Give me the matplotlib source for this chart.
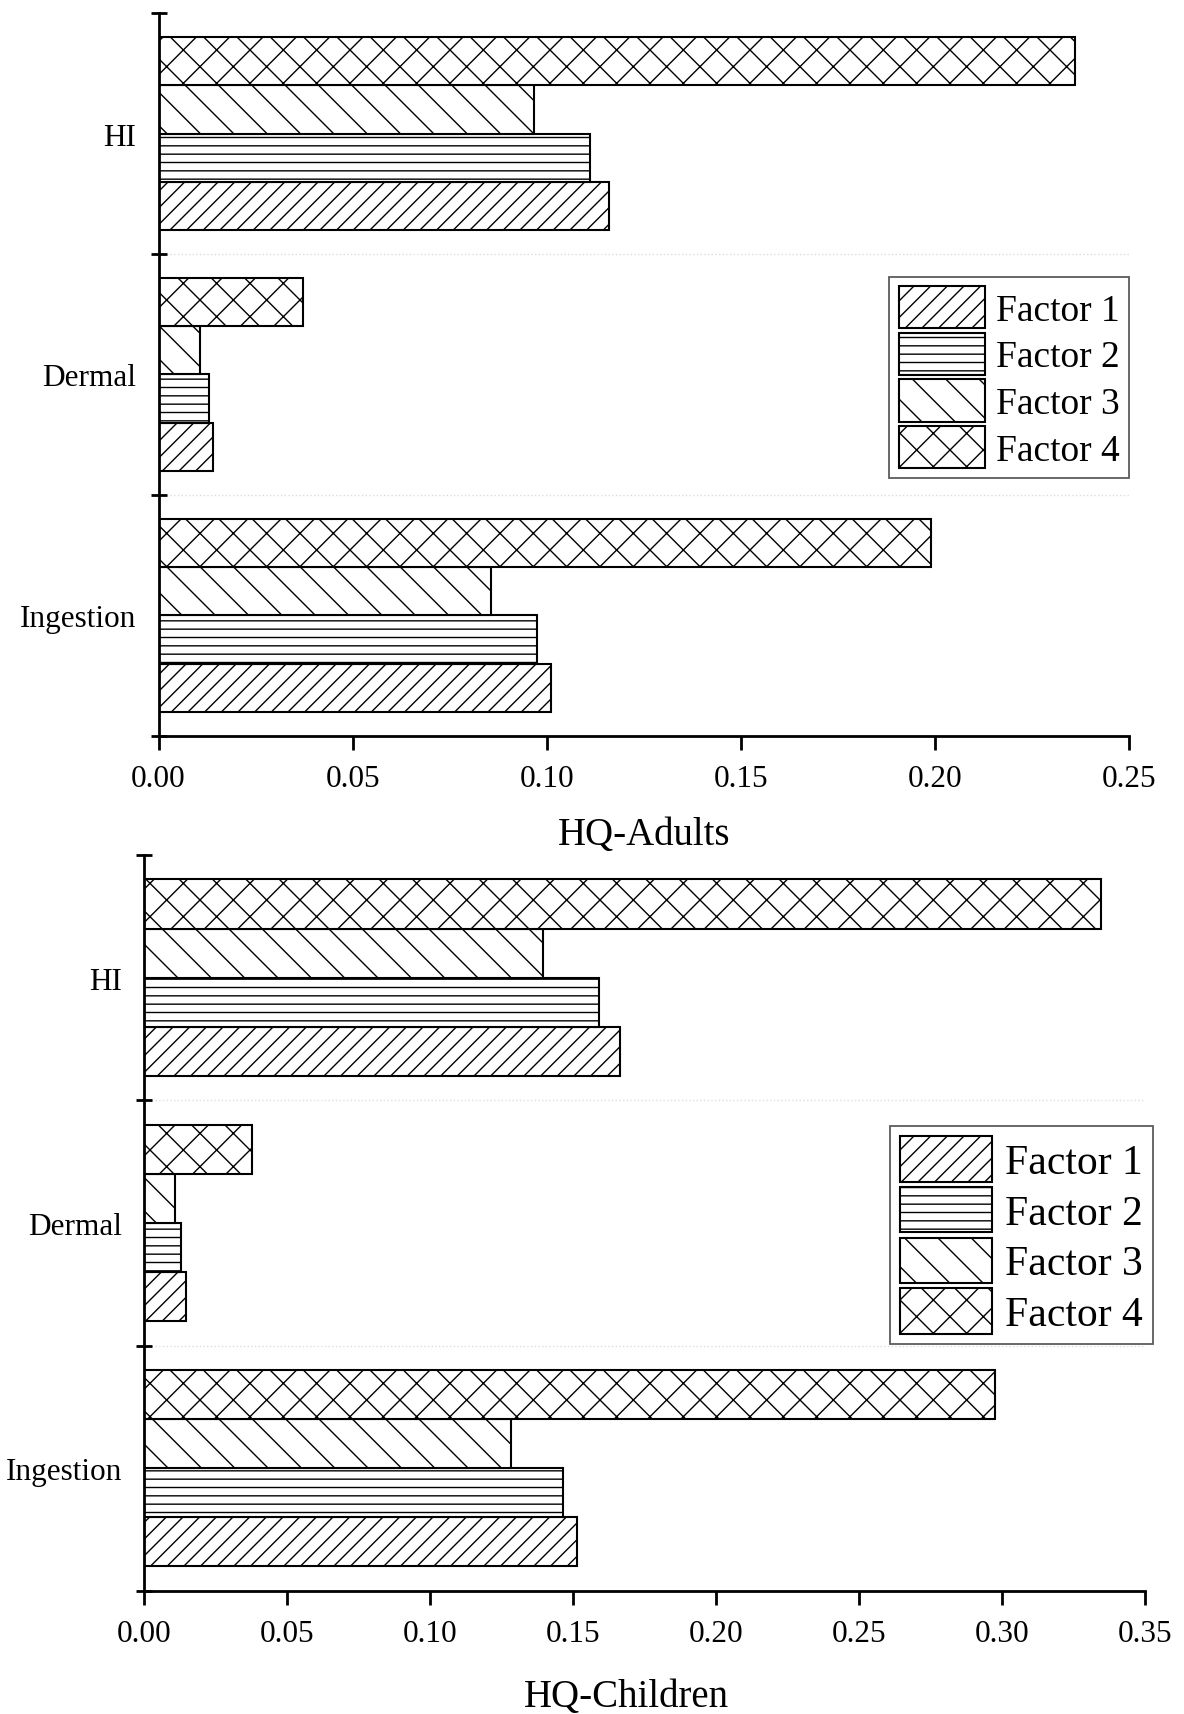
import numpy as np
import matplotlib.pyplot as plt

plt.rcParams['font.family'] = ['Liberation Serif', 'DejaVu Serif']
plt.rcParams['hatch.linewidth'] = 1.0

# categories bottom -> top
categories = ["Ingestion", "Dermal", "HI"]
factors = ["Factor 1", "Factor 2", "Factor 3", "Factor 4"]
hatches = ["//", "--", "\\", "x"]

# HQ for adults, one list per factor (Ingestion, Dermal, HI)
adults_f1 = [0.101, 0.0141, 0.116]
adults_f2 = [0.0974, 0.0130, 0.111]
adults_f3 = [0.0856, 0.0107, 0.0966]
adults_f4 = [0.199, 0.0372, 0.236]

# HQ for children
children_f1 = [0.1515, 0.0145, 0.1664]
children_f2 = [0.1465, 0.0130, 0.1591]
children_f3 = [0.1282, 0.0107, 0.1393]
children_f4 = [0.2976, 0.0375, 0.3347]

adults_ticks = [0.00, 0.05, 0.10, 0.15, 0.20, 0.25]
children_ticks = [0.00, 0.05, 0.10, 0.15, 0.20, 0.25, 0.30, 0.35]


def draw_panel(ax, series, xticks, xlabel, label_x, labelpad,
               legend_anchor, legend_size, handle_len, handle_h):
    y = np.arange(len(categories))
    h = 0.2
    offsets = [-0.3, -0.1, 0.1, 0.3]
    for vals, off, hat, lab in zip(series, offsets, hatches, factors):
        ax.barh(y + off, vals, height=h, color="white", edgecolor="black",
                linewidth=1.5, hatch=hat, label=lab)

    ax.set_ylim(-0.5, len(categories) - 0.5)
    ax.set_xlim(xticks[0], xticks[-1])

    # category boundaries as major ticks, names as minor ticks
    bounds = np.arange(len(categories) + 1) - 0.5
    ax.set_yticks(bounds)
    ax.set_yticklabels([""] * len(bounds))
    ax.set_yticks(y, minor=True)
    ax.set_yticklabels(categories, minor=True)
    ax.tick_params(axis="y", which="major", direction="inout", length=12, width=2)
    ax.tick_params(axis="y", which="minor", length=0, pad=16, labelsize=22.5)

    ax.set_xticks(xticks)
    ax.set_xticklabels([f"{t:.2f}" for t in xticks])
    ax.tick_params(axis="x", direction="out", length=10, width=2, pad=10, labelsize=22.5)

    for b in bounds[1:-1]:
        ax.axhline(b, color="#dddddd", linestyle=":", linewidth=1, zorder=0)

    for s in ["top", "right"]:
        ax.spines[s].set_visible(False)
    for s in ["left", "bottom"]:
        ax.spines[s].set_linewidth(2)

    ax.set_xlabel(xlabel, fontsize=28, labelpad=labelpad)
    ax.xaxis.label.set_x(label_x)  # only x is pinned, y stays automatic

    leg = ax.legend(loc="upper right", bbox_to_anchor=legend_anchor, borderaxespad=0,
                    fontsize=legend_size, frameon=True, fancybox=False, edgecolor="#333333",
                    handlelength=handle_len, handleheight=handle_h, labelspacing=0.12,
                    handletextpad=0.3, borderpad=0.25)
    leg.get_frame().set_linewidth(1.3)


fig = plt.figure(figsize=(11.84, 17.15), dpi=100)
ax1 = fig.add_axes([0.1339, 0.5703, 0.820, 0.4215])
ax2 = fig.add_axes([0.1219, 0.0717, 0.845, 0.4292])

draw_panel(ax1, [adults_f1, adults_f2, adults_f3, adults_f4], adults_ticks,
           "HQ-Adults", 0.5, 17, (1.0, 0.635), 27, 2.3, 1.35)
draw_panel(ax2, [children_f1, children_f2, children_f3, children_f4], children_ticks,
           "HQ-Children", 0.4815, 22, (1.008, 0.632), 30, 2.2, 1.3)

fig.savefig("out.png", dpi=100)
